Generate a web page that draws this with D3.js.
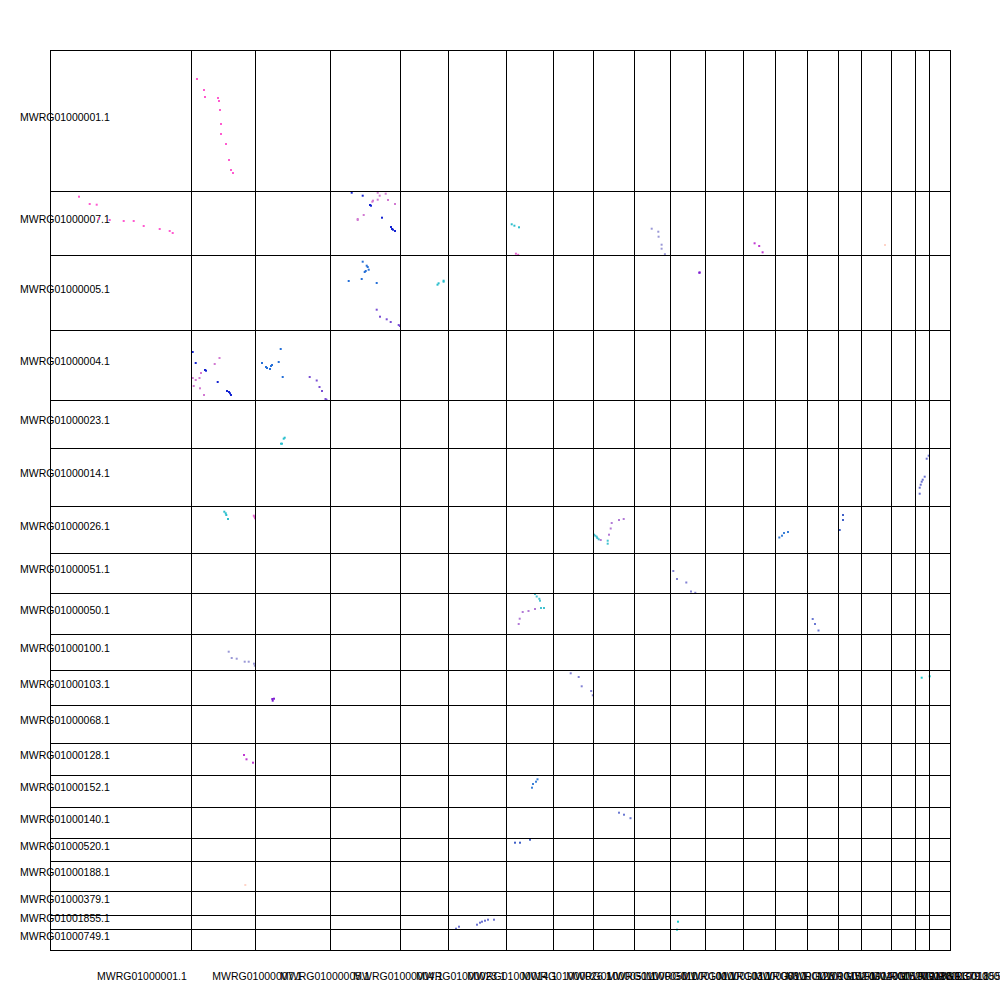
<!DOCTYPE html>
<html>
<head>
<meta charset="utf-8">
<script src="https://cdn.jsdelivr.net/npm/d3@7"></script>
<style>
  html, body { margin: 0; padding: 0; background: #fff; }
  svg { display: block; }
  text { font-family: "Liberation Sans", Arial, sans-serif; font-size: 10.5px; fill: #000; }
</style>
</head>
<body>
<svg id="chart" width="1000" height="1000"></svg>
<script>
// ---- contigs (same order on both axes) ----
const contigs = [
  "MWRG01000001.1","MWRG01000007.1","MWRG01000005.1","MWRG01000004.1","MWRG01000023.1",
  "MWRG01000014.1","MWRG01000026.1","MWRG01000051.1","MWRG01000050.1","MWRG01000100.1",
  "MWRG01000103.1","MWRG01000068.1","MWRG01000128.1","MWRG01000152.1","MWRG01000140.1",
  "MWRG01000520.1","MWRG01000188.1","MWRG01000379.1","MWRG01001855.1","MWRG01000749.1"
];
// contig lengths in kb
const contigLengthsKb = [1410, 640, 750, 700, 480, 580, 470, 400, 410, 360,
                         350, 380, 320, 320, 310, 230, 300, 240, 140, 210];

// ---- hits: [queryIdx (x), refIdx (y), queryPosKb, refPosKb, class] ----
const hits = [
  // 007 vs 001
  [1,0,60,290,"pink"],[1,0,130,400,"pink"],[1,0,140,470,"pink"],[1,0,270,480,"pink"],[1,0,280,510,"pink"],
  [1,0,290,600,"pink"],[1,0,300,740,"pink"],[1,0,300,840,"pink"],[1,0,350,940,"pink"],[1,0,380,1100,"pink"],
  [1,0,400,1200,"pink"],[1,0,420,1230,"pink"],
  // 001 vs 007
  [0,1,290,57,"pink"],[0,1,397,130,"pink"],[0,1,467,137,"pink"],[0,1,490,277,"pink"],[0,1,597,290,"pink"],
  [0,1,737,300,"pink"],[0,1,837,300,"pink"],[0,1,937,350,"pink"],[0,1,1097,380,"pink"],[0,1,1197,400,"pink"],
  [0,1,1227,420,"pink"],
  // 004 vs 007
  [3,1,217,17,"navy"],[3,1,327,47,"navy"],[3,1,400,140,"navy"],[3,1,410,147,"navy"],[3,1,520,267,"navy"],
  [3,1,610,360,"navy"],[3,1,620,380,"navy"],[3,1,630,387,"navy"],[3,1,650,400,"navy"],
  [3,1,477,17,"orchid"],[3,1,497,47,"orchid"],[3,1,557,27,"orchid"],[3,1,477,87,"orchid"],[3,1,423,107,"orchid"],
  [3,1,430,97,"orchid"],[3,1,580,90,"orchid"],[3,1,650,130,"orchid"],[3,1,337,240,"orchid"],[3,1,277,280,"orchid"],
  [3,1,277,290,"orchid"],
  // 007 vs 004
  [1,3,17,220,"navy"],[1,3,47,330,"navy"],[1,3,140,400,"navy"],[1,3,150,407,"navy"],[1,3,267,520,"navy"],
  [1,3,360,610,"navy"],[1,3,380,620,"navy"],[1,3,390,633,"navy"],[1,3,400,650,"navy"],
  [1,3,17,480,"orchid"],[1,3,47,500,"orchid"],[1,3,27,560,"orchid"],[1,3,85,480,"orchid"],[1,3,100,430,"orchid"],
  [1,3,237,340,"orchid"],[1,3,285,280,"orchid"],[1,3,90,583,"orchid"],[1,3,130,650,"orchid"],
  // 004 vs 005
  [3,2,327,67,"blue"],[3,2,367,107,"blue"],[3,2,377,120,"blue"],[3,2,387,147,"blue"],[3,2,357,160,"blue"],
  [3,2,347,170,"blue"],[3,2,187,260,"blue"],[3,2,317,240,"blue"],[3,2,467,280,"blue"],
  [3,2,467,547,"violet"],[3,2,500,617,"violet"],[3,2,567,643,"violet"],[3,2,607,670,"violet"],
  [3,2,687,700,"violet"],[3,2,699,710,"violet"],
  // 005 vs 004
  [2,3,70,330,"blue"],[2,3,110,370,"blue"],[2,3,120,380,"blue"],[2,3,150,390,"blue"],[2,3,160,360,"blue"],
  [2,3,170,350,"blue"],[2,3,237,320,"blue"],[2,3,257,190,"blue"],[2,3,277,470,"blue"],
  [2,3,547,470,"violet"],[2,3,617,505,"violet"],[2,3,645,570,"violet"],[2,3,670,610,"violet"],
  [2,3,705,690,"violet"],[2,3,715,698,"violet"],
  // 005 vs 023 / 023 vs 005
  [2,4,260,437,"cyan"],[2,4,270,437,"cyan"],[2,4,287,387,"cyan"],[2,4,297,377,"cyan"],
  [4,2,375,297,"cyan"],[4,2,386,283,"cyan"],[4,2,436,257,"cyan"],[4,2,436,267,"cyan"],
  // 026 vs 007 / 007 vs 026
  [6,1,57,333,"cyan"],[6,1,84,347,"cyan"],[6,1,130,363,"cyan"],
  [6,1,99,627,"rose"],[6,1,122,638,"rose"],
  [1,6,333,57,"cyan"],[1,6,347,73,"cyan"],[1,6,353,90,"cyan"],[1,6,370,130,"cyan"],
  [1,6,628,97,"rose"],[1,6,636,110,"rose"],[1,6,640,123,"rose"],
  // 100 vs 007 / 007 vs 100
  [9,1,177,377,"lavender"],[9,1,243,407,"lavender"],[9,1,246,457,"lavender"],[9,1,276,537,"lavender"],
  [9,1,276,577,"lavender"],[9,1,309,632,"lavender"],
  [1,9,377,177,"lavender"],[1,9,407,240,"lavender"],[1,9,457,247,"lavender"],[1,9,537,277,"lavender"],
  [1,9,577,277,"lavender"],[1,9,630,297,"lavender"],[1,9,638,317,"lavender"],
  // 128 vs 007 / 007 vs 128
  [12,1,116,523,"magenta"],[12,1,162,550,"magenta"],[12,1,196,613,"magenta"],
  [1,12,530,120,"magenta"],[1,12,555,163,"magenta"],[1,12,620,197,"magenta"],
  // 188 vs 007 / 007 vs 188
  [16,1,240,540,"peach"],[1,16,543,240,"peach"],
  // 103 vs 005 / 005 vs 103
  [10,2,293,177,"deepviolet"],[10,2,297,175,"deepviolet"],
  [2,10,173,290,"deepviolet"],[2,10,190,287,"deepviolet"],[2,10,177,307,"deepviolet"],
  // 050 vs 026
  [8,6,10,287,"cyan2"],[8,6,23,297,"cyan2"],[8,6,37,307,"cyan2"],[8,6,43,320,"cyan2"],[8,6,57,333,"cyan2"],
  [8,6,147,347,"cyan2"],[8,6,147,377,"cyan2"],
  [8,6,77,340,"orchid2"],[8,6,160,287,"orchid2"],[8,6,177,225,"orchid2"],[8,6,187,170,"orchid2"],
  [8,6,260,140,"orchid2"],[8,6,307,130,"orchid2"],
  // 026 vs 050
  [6,8,290,10,"cyan2"],[6,8,307,35,"cyan2"],[6,8,333,58,"cyan2"],[6,8,340,77,"cyan2"],[6,8,350,150,"cyan2"],
  [6,8,380,150,"cyan2"],
  [6,8,127,310,"orchid2"],[6,8,137,257,"orchid2"],[6,8,167,190,"orchid2"],[6,8,225,180,"orchid2"],
  [6,8,290,160,"orchid2"],
  // 152 vs 026 / 026 vs 152
  [13,6,43,315,"blue3"],[13,6,70,297,"blue3"],[13,6,90,270,"blue3"],[13,6,130,260,"blue3"],
  [6,13,260,127,"blue3"],[6,13,270,90,"blue3"],[6,13,300,67,"blue3"],[6,13,315,43,"blue3"],
  // 520 vs 026 / 026 vs 520
  [15,6,50,90,"blue4"],[15,6,50,140,"blue4"],[15,6,17,240,"blue4"],
  [6,15,90,47,"blue4"],[6,15,140,47,"blue4"],[6,15,240,17,"blue4"],
  // 103 vs 051 / 051 vs 103
  [10,7,33,180,"periwinkle"],[10,7,70,260,"periwinkle"],[10,7,163,295,"periwinkle"],[10,7,210,385,"periwinkle"],
  [10,7,253,398,"periwinkle"],
  [7,10,177,33,"periwinkle"],[7,10,257,70,"periwinkle"],[7,10,287,163,"periwinkle"],[7,10,382,210,"periwinkle"],
  [7,10,398,253,"periwinkle"],
  // 140 vs 050 / 050 vs 140
  [14,8,57,260,"slate"],[14,8,80,310,"slate"],[14,8,115,375,"slate"],
  [8,14,260,57,"slate"],[8,14,310,77,"slate"],[8,14,375,112,"slate"],
  // 1855 vs 014 / 014 vs 1855
  [18,5,137,77,"slate2"],[18,5,117,107,"slate2"],[18,5,97,287,"slate2"],[18,5,77,317,"slate2"],
  [18,5,67,337,"slate2"],[18,5,57,367,"slate2"],[18,5,47,397,"slate2"],[18,5,47,457,"slate2"],
  [5,18,80,137,"slate2"],[5,18,110,117,"slate2"],[5,18,290,97,"slate2"],[5,18,320,77,"slate2"],
  [5,18,340,67,"slate2"],[5,18,370,57,"slate2"],[5,18,400,47,"slate2"],[5,18,460,47,"slate2"],
  // 1855/749 vs 103 and reverse
  [18,10,67,77,"aqua"],[19,10,7,63,"aqua"],[10,18,80,67,"aqua"],[10,19,70,7,"aqua"]
];

// ---- styles ----
const classColor = {
  pink: "#ff5bd0", navy: "#1424d2", orchid: "#d27ad2", blue: "#2670d8", violet: "#7a4ed4",
  cyan: "#2cbfcd", rose: "#e563cf", lavender: "#9a98d6", magenta: "#c03ad2", peach: "#ffd4c8",
  deepviolet: "#7e1ed2", cyan2: "#44c2d0", orchid2: "#b27ad6", blue3: "#3a80d8", blue4: "#3f60c8",
  periwinkle: "#8282d4", slate: "#6a78d2", slate2: "#6b72d0", aqua: "#18cccc"
};

const svg = d3.select("#chart");
const offsets = [0];
contigLengthsKb.forEach((l, i) => offsets.push(offsets[i] + l));
const total = offsets[offsets.length - 1];

const x = d3.scaleLinear().domain([0, total]).range([50, 950]);
const y = d3.scaleLinear().domain([0, total]).range([50, 950]);

// labels (drawn first, grid lines drawn over)
svg.append("g").selectAll("text").data(contigs).join("text")
  .attr("x", 20)
  .attr("y", (d, i) => (y(offsets[i]) + y(offsets[i + 1])) / 2)
  .text(d => d);

svg.append("g").selectAll("text").data(contigs).join("text")
  .attr("x", (d, i) => x(offsets[i]) + (x(offsets[i + 1]) - x(offsets[i])) / 3)
  .attr("y", 980)
  .text(d => d);

// points
svg.append("g").selectAll("rect").data(hits).join("rect")
  .attr("x", d => x(offsets[d[0]] + d[2]) - 1)
  .attr("y", d => y(offsets[d[1]] + d[3]) - 1)
  .attr("width", 2).attr("height", 2)
  .attr("fill", d => classColor[d[4]]);

// grid
const grid = svg.append("g").attr("stroke", "#000").attr("stroke-width", 1).attr("fill", "none");
grid.selectAll("line.v").data(offsets).join("line").attr("class", "v")
  .attr("x1", d => Math.round(x(d)) + 0.5).attr("x2", d => Math.round(x(d)) + 0.5)
  .attr("y1", y(0)).attr("y2", y(total) + 1);
grid.selectAll("line.h").data(offsets).join("line").attr("class", "h")
  .attr("y1", d => Math.round(y(d)) + 0.5).attr("y2", d => Math.round(y(d)) + 0.5)
  .attr("x1", x(0)).attr("x2", x(total) + 1);
</script>
</body>
</html>
